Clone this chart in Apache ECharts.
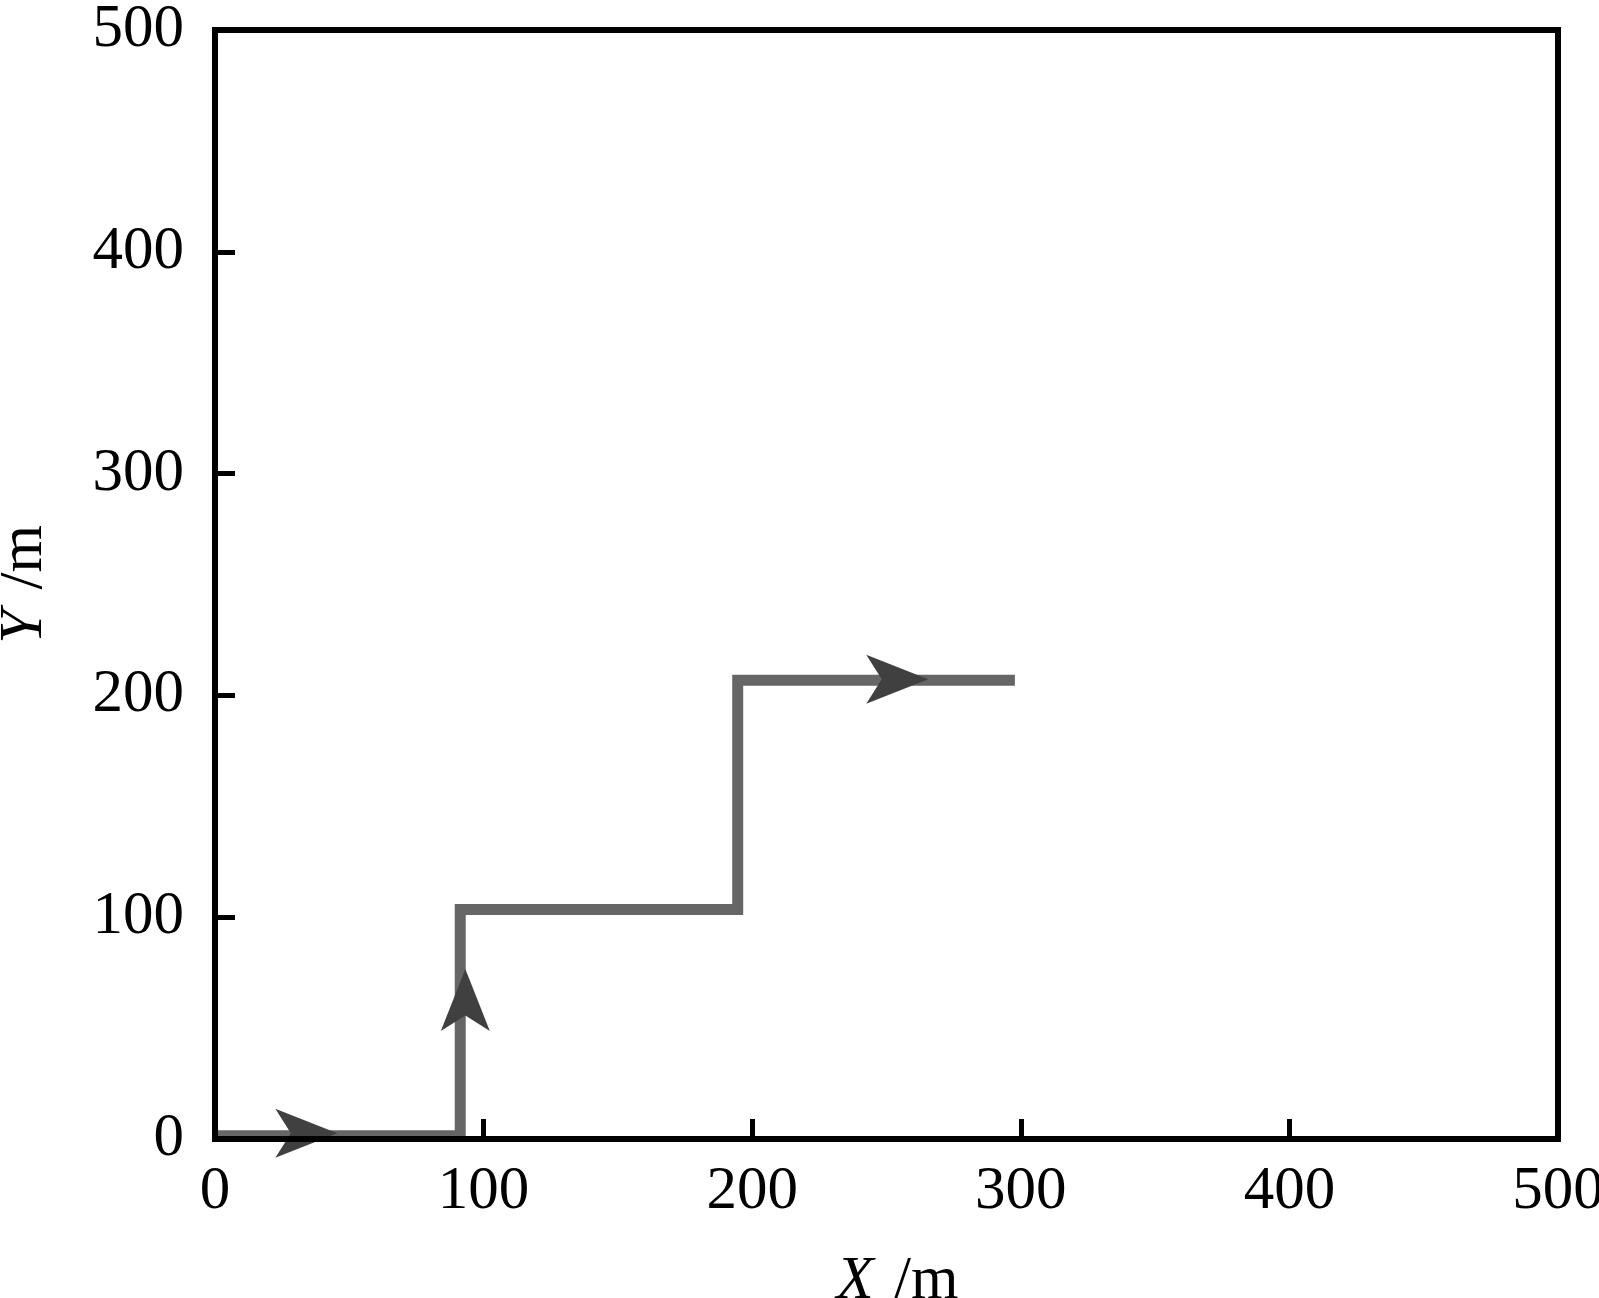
<!DOCTYPE html>
<html>
<head>
<meta charset="utf-8">
<script src="https://cdn.jsdelivr.net/npm/echarts@6/dist/echarts.min.js"></script>
<style>html,body{margin:0;padding:0;background:#fff;}#c{width:1599px;height:1298px;}</style>
</head>
<body>
<div id="c"></div>
<script>
// Path of the track (X, Y in metres)
const pathX = [0, 91.3, 91.3, 194.6, 194.6, 297.8];
const pathY = [1.5, 1.5, 103.5, 103.5, 206.8, 206.8];
// Direction arrows: position and heading (degrees, 0 = up, -90 = right)
const arrowX = [34, 93.2, 254];
const arrowY = [2.6, 62.7, 207.3];
const arrowRot = [-90, 0, -90];
// Axis ticks
const xTicks = [0, 100, 200, 300, 400, 500];
const yTicks = [0, 100, 200, 300, 400, 500];

const chart = echarts.init(document.getElementById('c'), null, {renderer: 'canvas'});
const FONT = 'Liberation Serif';
const FS = 61;
const lineData = pathX.map((x, i) => [x, pathY[i]]);
const arrowData = arrowX.map((x, i) => ({value: [x, arrowY[i]], symbolRotate: arrowRot[i]}));
// stealth-style arrow pointing up, fitted into the symbol box
const ARROW = 'path://M0,0 L1,2 L0,1.5 L-1,2 Z';

chart.setOption({
  animation: false,
  backgroundColor: '#fff',
  grid: {left: 215, right: 41, top: 30, bottom: 159, containLabel: false, outerBoundsMode: 'none',
    show: true, borderColor: '#000', borderWidth: 6, backgroundColor: 'transparent'},
  xAxis: {
    type: 'value', min: xTicks[0], max: xTicks[xTicks.length - 1], interval: 100, z: 5,
    axisLine: {show: true, onZero: false, lineStyle: {color: '#000', width: 6}},
    axisTick: {show: true, inside: true, length: 20, lineStyle: {color: '#000', width: 5}},
    axisLabel: {color: '#000', fontFamily: FONT, fontSize: FS, margin: 22},
    splitLine: {show: false},
    name: '{i|X}\u200A /m', nameLocation: 'middle', nameGap: 112,
    nameTextStyle: {color: '#000', fontFamily: FONT, fontSize: FS, padding: [0, 0, 0, 22],
      rich: {i: {fontStyle: 'italic', fontFamily: FONT, fontSize: FS, color: '#000'}}}
  },
  yAxis: {
    type: 'value', min: yTicks[0], max: yTicks[yTicks.length - 1], interval: 100, z: 5,
    axisLine: {show: true, onZero: false, lineStyle: {color: '#000', width: 6}},
    axisTick: {show: true, inside: true, length: 20, lineStyle: {color: '#000', width: 5}},
    axisLabel: {color: '#000', fontFamily: FONT, fontSize: FS, margin: 31},
    splitLine: {show: false},
    name: '{i|Y}\u200A /m', nameLocation: 'middle', nameGap: 160, nameRotate: 90,
    nameTextStyle: {color: '#000', fontFamily: FONT, fontSize: FS,
      rich: {i: {fontStyle: 'italic', fontFamily: FONT, fontSize: FS, color: '#000'}}}
  },
  series: [
    {
      type: 'line', data: lineData, showSymbol: false, symbol: 'none', z: 2,
      lineStyle: {color: '#666666', width: 11, join: 'miter', cap: 'butt'}
    },
    {
      type: 'scatter', data: arrowData, symbol: ARROW, symbolSize: [49, 62], z: 3,
      itemStyle: {color: '#404040', opacity: 1}
    }
  ]
});
</script>
</body>
</html>
